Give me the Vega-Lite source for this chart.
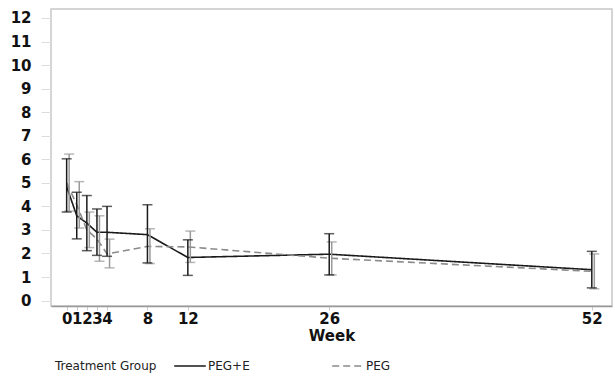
{
  "$schema": "https://vega.github.io/schema/vega-lite/v6.json",
  "width": 561,
  "height": 297,
  "autosize": "none",
  "padding": {"left": 51, "top": 9, "right": 3, "bottom": 70},
  "background": "white",
  "config": {
    "view": {"stroke": "#c8c8c8", "strokeWidth": 1.5},
    "font": "DejaVu Sans",
    "axisY": {
      "title": null,
      "grid": false,
      "domain": false,
      "tickColor": "#ddd",
      "tickSize": 10,
      "labelPadding": 10,
      "labelOverlap": false,
      "labelFont": "DejaVu Sans",
      "labelFontWeight": "bold",
      "labelFontSize": 15,
      "labelColor": "#111"
    }
  },
  "data": {
    "values": [
      {"week": 0, "group": "PEG+E", "mean": 4.84, "lo": 3.76, "hi": 6.02},
      {"week": 1, "group": "PEG+E", "mean": 3.6, "lo": 2.62, "hi": 4.6},
      {"week": 2, "group": "PEG+E", "mean": 3.29, "lo": 2.12, "hi": 4.46},
      {"week": 3, "group": "PEG+E", "mean": 2.9, "lo": 1.92, "hi": 3.89},
      {"week": 4, "group": "PEG+E", "mean": 2.9, "lo": 1.88, "hi": 4.0},
      {"week": 8, "group": "PEG+E", "mean": 2.8, "lo": 1.6, "hi": 4.07},
      {"week": 12, "group": "PEG+E", "mean": 1.83, "lo": 1.07, "hi": 2.58},
      {"week": 26, "group": "PEG+E", "mean": 1.97, "lo": 1.09, "hi": 2.84},
      {"week": 52, "group": "PEG+E", "mean": 1.31, "lo": 0.54, "hi": 2.09},
      {"week": 0, "group": "PEG", "mean": 5.0, "lo": 3.8, "hi": 6.22},
      {"week": 1, "group": "PEG", "mean": 4.07, "lo": 3.08, "hi": 5.05},
      {"week": 2, "group": "PEG", "mean": 3.0, "lo": 2.25, "hi": 3.76},
      {"week": 3, "group": "PEG", "mean": 2.62, "lo": 1.67, "hi": 3.6},
      {"week": 4, "group": "PEG", "mean": 1.98, "lo": 1.39, "hi": 2.61},
      {"week": 8, "group": "PEG", "mean": 2.3, "lo": 1.57, "hi": 3.05},
      {"week": 12, "group": "PEG", "mean": 2.28, "lo": 1.62, "hi": 2.95},
      {"week": 26, "group": "PEG", "mean": 1.8, "lo": 1.09, "hi": 2.49},
      {"week": 52, "group": "PEG", "mean": 1.24, "lo": 0.5, "hi": 1.98}
    ]
  },
  "encoding": {
    "x": {
      "field": "week",
      "type": "quantitative",
      "scale": {"domain": [-1.55, 54], "nice": false, "zero": false},
      "axis": {
        "values": [0, 1, 2, 3, 4, 8, 12, 26, 52],
        "title": "Week",
        "grid": false,
        "domainColor": "#999",
        "domainWidth": 1.5,
        "tickColor": "#ccc",
        "tickSize": 4,
        "labelFont": "DejaVu Sans",
        "labelFontWeight": "bold",
        "labelFontSize": 15,
        "labelColor": "#111",
        "labelPadding": 1,
        "labelOverlap": false,
        "labelFlush": false,
        "titleFont": "DejaVu Sans",
        "titleFontWeight": "bold",
        "titleFontSize": 15,
        "titleColor": "#111",
        "titlePadding": 2
      }
    }
  },
  "layer": [
    {
      "mark": {"type": "line", "strokeWidth": 1.6},
      "encoding": {
        "y": {
          "field": "mean",
          "type": "quantitative",
          "scale": {"domain": [-0.23, 12.38], "nice": false, "zero": false},
          "axis": {"values": [0, 1, 2, 3, 4, 5, 6, 7, 8, 9, 10, 11, 12], "labelOverlap": false, "title": null}
        },
        "color": {
          "field": "group",
          "type": "nominal",
          "title": "Treatment Group",
          "scale": {"domain": ["PEG+E", "PEG"], "range": ["#1a1a1a", "#8a8a8a"]},
          "legend": {
            "orient": "none",
            "legendX": 4,
            "legendY": 340,
            "direction": "horizontal",
            "titleOrient": "left",
            "titleFont": "DejaVu Sans",
            "titleFontWeight": "normal",
            "titleFontSize": 12,
            "titleColor": "#222",
            "titlePadding": 16,
            "titleBaseline": "top",
            "labelFont": "DejaVu Sans",
            "labelFontSize": 12,
            "labelColor": "#222",
            "labelOffset": 1,
            "symbolType": "stroke",
            "symbolSize": 1000,
            "symbolStrokeWidth": 1.5,
            "columnPadding": 79
          }
        },
        "strokeDash": {
          "field": "group",
          "type": "nominal",
          "title": "Treatment Group",
          "scale": {"domain": ["PEG+E", "PEG"], "range": [[1, 0], [7, 4]]}
        }
      }
    },
    {
      "transform": [{"filter": "datum.group === 'PEG'"}],
      "mark": {"type": "rule", "color": "#999", "strokeWidth": 1.5, "xOffset": 2.5},
      "encoding": {
        "y": {"field": "lo", "type": "quantitative", "axis": {"values": [0, 1, 2, 3, 4, 5, 6, 7, 8, 9, 10, 11, 12], "labelOverlap": false, "title": null}},
        "y2": {"field": "hi"}
      }
    },
    {
      "transform": [{"filter": "datum.group === 'PEG'"}, {"fold": ["lo", "hi"], "as": ["end", "val"]}],
      "mark": {"type": "tick", "orient": "horizontal", "color": "#999", "size": 10, "thickness": 1.5, "xOffset": 2.5},
      "encoding": {
        "y": {"field": "val", "type": "quantitative", "axis": {"values": [0, 1, 2, 3, 4, 5, 6, 7, 8, 9, 10, 11, 12], "labelOverlap": false, "title": null}}
      }
    },
    {
      "transform": [{"filter": "datum.group === 'PEG+E'"}],
      "mark": {"type": "rule", "color": "#1a1a1a", "strokeWidth": 1.5},
      "encoding": {
        "y": {"field": "lo", "type": "quantitative", "axis": {"values": [0, 1, 2, 3, 4, 5, 6, 7, 8, 9, 10, 11, 12], "labelOverlap": false, "title": null}},
        "y2": {"field": "hi"}
      }
    },
    {
      "transform": [{"filter": "datum.group === 'PEG+E'"}, {"fold": ["lo", "hi"], "as": ["end", "val"]}],
      "mark": {"type": "tick", "orient": "horizontal", "color": "#1a1a1a", "size": 10, "thickness": 1.5},
      "encoding": {
        "y": {"field": "val", "type": "quantitative", "axis": {"values": [0, 1, 2, 3, 4, 5, 6, 7, 8, 9, 10, 11, 12], "labelOverlap": false, "title": null}}
      }
    }
  ]
}
